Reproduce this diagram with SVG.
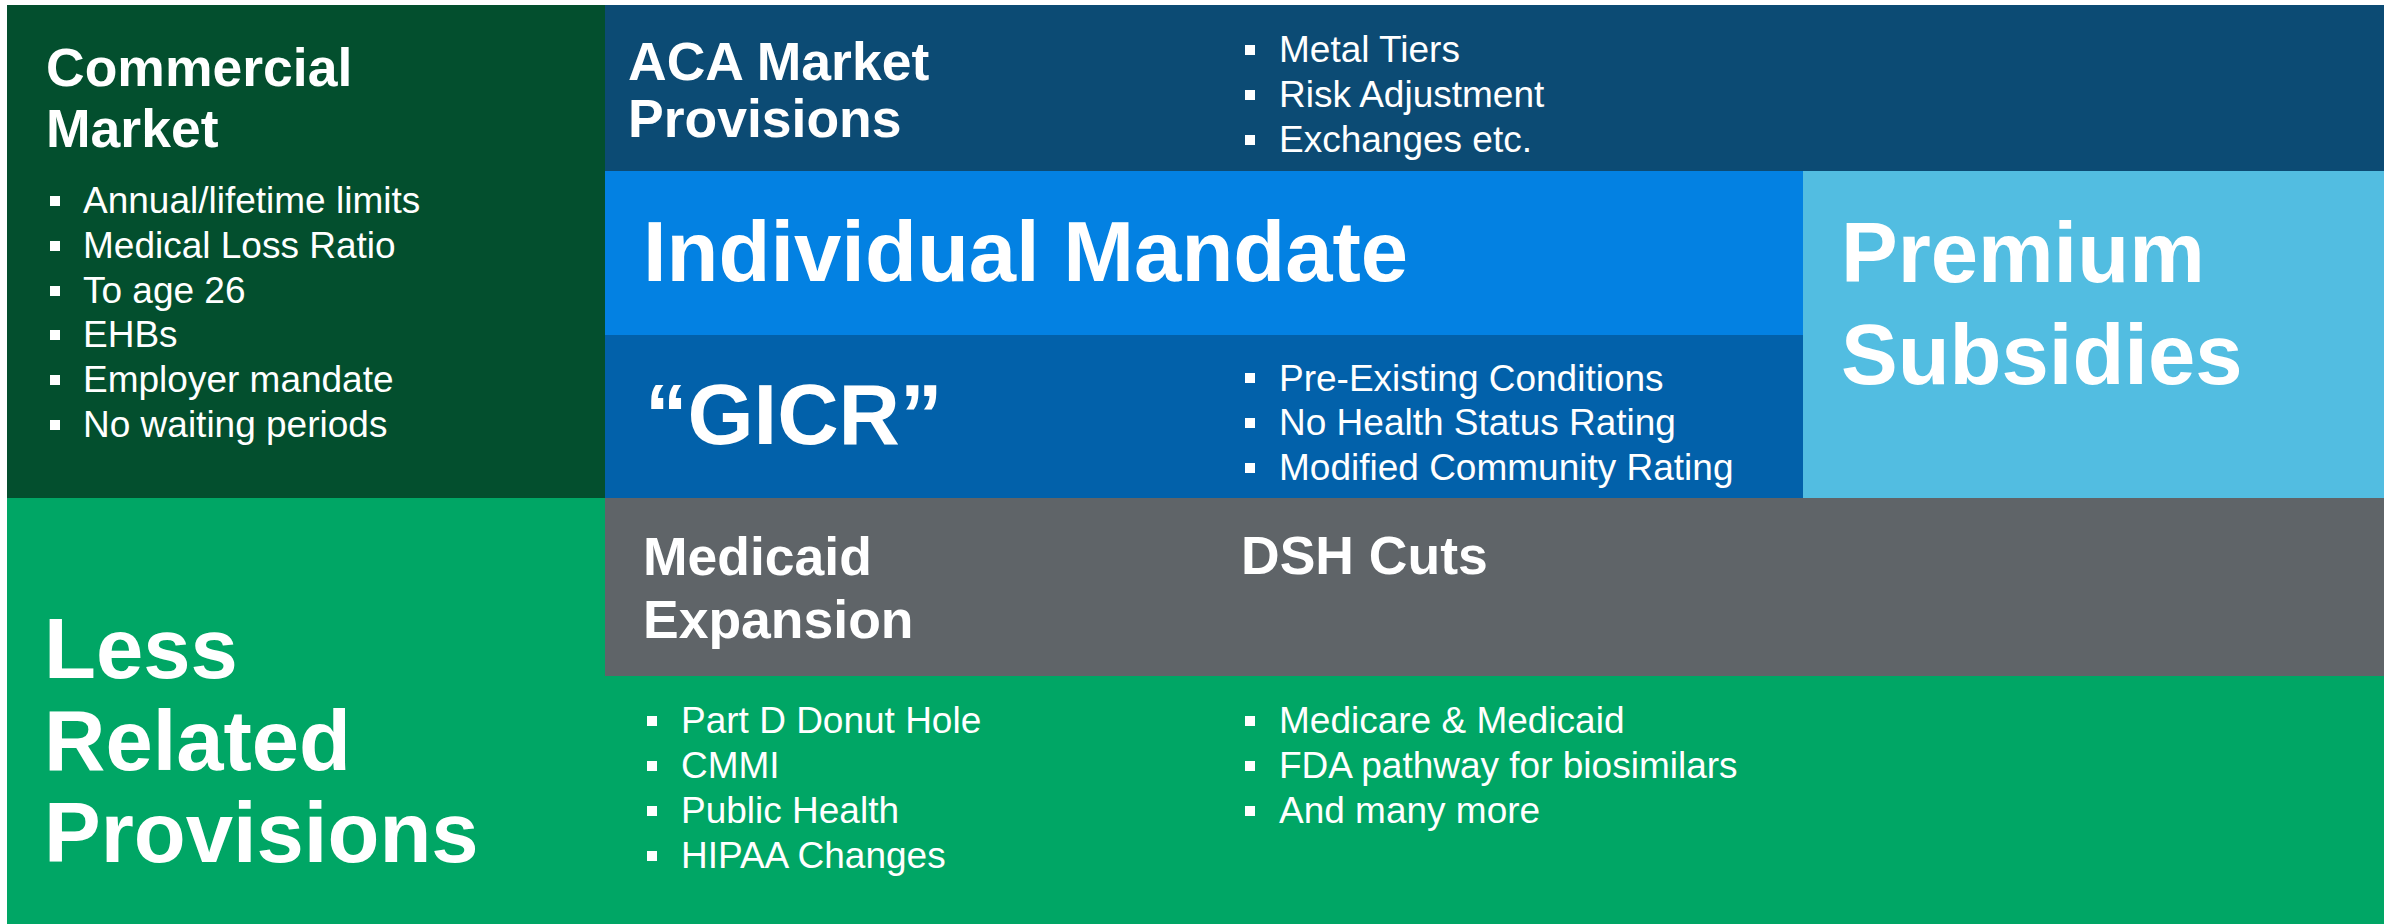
<svg xmlns="http://www.w3.org/2000/svg" width="2397" height="924" viewBox="0 0 2397 924">
<style>
text{font-family:"Liberation Sans",Arial,sans-serif;fill:#fff}
.h{font-weight:bold;font-size:53.5px}
.big{font-weight:bold;font-size:85px}
.b{font-size:37px}
.sq{fill:#fff}
</style>
<rect width="2397" height="924" fill="#fff"/>
<g id="less-related">
<rect x="7" y="498" width="2377" height="426" fill="#00A665"/>
<text class="big" x="44" y="678">Less</text>
<text class="big" x="44" y="770">Related</text>
<text class="big" x="44" y="862">Provisions</text>
<rect class="sq" x="647" y="716" width="10" height="10"/>
<rect class="sq" x="647" y="761" width="10" height="10"/>
<rect class="sq" x="647" y="806" width="10" height="10"/>
<rect class="sq" x="647" y="851" width="10" height="10"/>
<text class="b" x="681" y="733">Part D Donut Hole</text>
<text class="b" x="681" y="778">CMMI</text>
<text class="b" x="681" y="823">Public Health</text>
<text class="b" x="681" y="868">HIPAA Changes</text>
<rect class="sq" x="1245" y="716" width="10" height="10"/>
<rect class="sq" x="1245" y="761" width="10" height="10"/>
<rect class="sq" x="1245" y="806" width="10" height="10"/>
<text class="b" x="1279" y="733">Medicare &amp; Medicaid</text>
<text class="b" x="1279" y="778">FDA pathway for biosimilars</text>
<text class="b" x="1279" y="823">And many more</text>
</g>
<g id="commercial-market">
<rect x="7" y="5" width="598" height="493" fill="#034F2E"/>
<text class="h" x="46" y="86">Commercial</text>
<text class="h" x="46" y="147">Market</text>
<rect class="sq" x="50" y="196" width="10" height="10"/>
<rect class="sq" x="50" y="241" width="10" height="10"/>
<rect class="sq" x="50" y="286" width="10" height="10"/>
<rect class="sq" x="50" y="330" width="10" height="10"/>
<rect class="sq" x="50" y="375" width="10" height="10"/>
<rect class="sq" x="50" y="420" width="10" height="10"/>
<text class="b" x="83" y="213">Annual/lifetime limits</text>
<text class="b" x="83" y="258">Medical Loss Ratio</text>
<text class="b" x="83" y="303">To age 26</text>
<text class="b" x="83" y="347">EHBs</text>
<text class="b" x="83" y="392">Employer mandate</text>
<text class="b" x="83" y="437">No waiting periods</text>
</g>
<g id="aca-market">
<rect x="605" y="5" width="1779" height="166" fill="#0C4B74"/>
<text class="h" x="628" y="80">ACA Market</text>
<text class="h" x="628" y="137">Provisions</text>
<rect class="sq" x="1245" y="45" width="10" height="10"/>
<rect class="sq" x="1245" y="90" width="10" height="10"/>
<rect class="sq" x="1245" y="135" width="10" height="10"/>
<text class="b" x="1279" y="62">Metal Tiers</text>
<text class="b" x="1279" y="107">Risk Adjustment</text>
<text class="b" x="1279" y="152">Exchanges etc.</text>
</g>
<g id="individual-mandate">
<rect x="605" y="171" width="1198" height="164" fill="#0381E2"/>
<text class="big" x="643" y="281">Individual Mandate</text>
</g>
<g id="gicr">
<rect x="605" y="335" width="1198" height="163" fill="#0261AA"/>
<text class="big" x="645" y="444">“GICR”</text>
<rect class="sq" x="1245" y="373" width="10" height="10"/>
<rect class="sq" x="1245" y="418" width="10" height="10"/>
<rect class="sq" x="1245" y="463" width="10" height="10"/>
<text class="b" x="1279" y="391">Pre-Existing Conditions</text>
<text class="b" x="1279" y="435">No Health Status Rating</text>
<text class="b" x="1279" y="480">Modified Community Rating</text>
</g>
<g id="premium-subsidies">
<rect x="1803" y="171" width="581" height="327" fill="#52BDE1"/>
<text class="big" x="1841" y="282">Premium</text>
<text class="big" x="1841" y="384">Subsidies</text>
</g>
<g id="medicaid">
<rect x="605" y="498" width="1779" height="178" fill="#5F6468"/>
<text class="h" x="643" y="575">Medicaid</text>
<text class="h" x="643" y="638">Expansion</text>
<text class="h" x="1241" y="574">DSH Cuts</text>
</g>
<g id="connectors"/>
</svg>
